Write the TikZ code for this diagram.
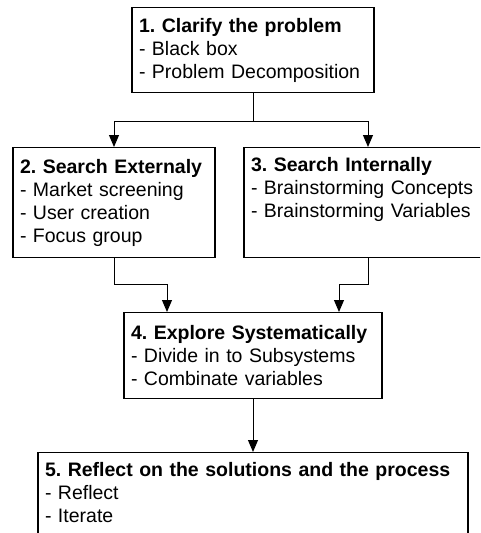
\documentclass[tikz,border=0pt]{standalone}
\usepackage{fontspec}
\setmainfont{Liberation Sans}
\usetikzlibrary{arrows.meta}
\frenchspacing
\begin{document}
\begin{tikzpicture}[x=1pt,y=-1pt,
  stepbox/.style={draw=black, line width=1.1pt, anchor=north, align=left,
    inner xsep=7pt, inner ysep=4pt,
    font=\fontsize{19.5}{23}\selectfont},
  arr/.style={draw=black, line width=1pt, -{Triangle[length=12pt,width=10pt]}},
  ln/.style={draw=black, line width=1pt}]
\useasboundingbox (0,0) rectangle (480,533);
\clip (0,0) rectangle (480,533);
\node[stepbox, text width=228pt, minimum height=85pt] (b1) at (253,7)
  {\textbf{1. Clarify the problem}\\- Black box\\- Problem Decomposition};
\node[stepbox, text width=188pt, minimum height=110pt] (b2) at (114,147)
  {\textbf{2. Search Externaly}\\- Market screening\\- User creation\\- Focus group};
\node[stepbox, text width=234pt, minimum height=110pt] (b3) at (368,147)
  {\textbf{3. Search Internally}\\- Brainstorming Concepts\\- Brainstorming Variables\\\strut};
\node[stepbox, text width=244pt, minimum height=86pt] (b4) at (253,312)
  {\textbf{4. Explore Systematically}\\- Divide in to Subsystems\\- Combinate variables};
\node[stepbox, text width=416pt, minimum height=110pt] (b5) at (253,452)
  {\textbf{5. Reflect on the solutions and the process}\\- Reflect\\- Iterate\\\strut};
\coordinate (j1) at (253,121);
\coordinate (m2) at (167,284);
\coordinate (m3) at (339,284);
\draw[ln] (b1.south) -- (j1);
\draw[arr] (j1) -| (b2.north);
\draw[arr] (j1) -| (b3.north);
\draw[arr] (b2.south) |- (m2) -- (m2 |- b4.north);
\draw[arr] (b3.south) |- (m3) -- (m3 |- b4.north);
\draw[arr] (b4.south) -- (b5.north);
\end{tikzpicture}
\end{document}
